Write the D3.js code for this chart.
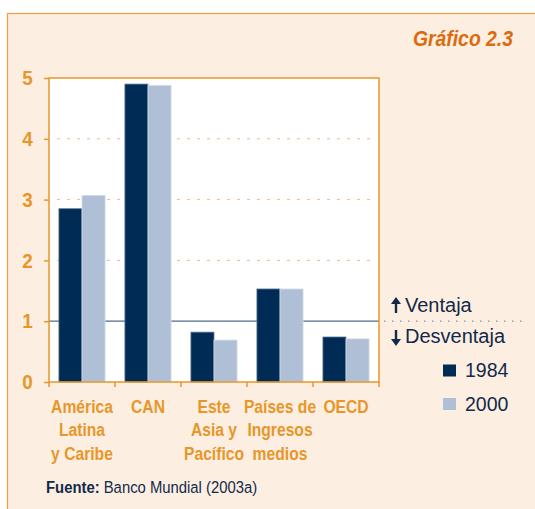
<!DOCTYPE html>
<html>
<head>
<meta charset="utf-8">
<script src="https://cdn.jsdelivr.net/npm/d3@7"></script>
<style>
  body { margin: 0; background: #fff; }
  svg { display: block; font-family: "Liberation Sans", Arial, sans-serif; }
</style>
</head>
<body>
<div class="visual"></div>
<script>
const width = 535;
const height = 509;

// data
const categories = ["América Latina y Caribe", "CAN", "Este Asia y Pacífico", "Países de Ingresos medios", "OECD"];
const catLines = [["América", "Latina", "y Caribe"], ["CAN"], ["Este", "Asia y", "Pacífico"], ["Países de", "Ingresos", "medios"], ["OECD"]];
const years = ["1984", "2000"];
const values1984 = [2.85, 4.9, 0.82, 1.53, 0.74];
const values2000 = [3.07, 4.88, 0.69, 1.53, 0.71];
const yTicks = [0, 1, 2, 3, 4, 5];

const orange = "#e8962a";
const navy = "#002b55";
const light = "#aebfd6";
const textNavy = "#13294b";
const squeeze = 0.9; // condensed look of the original font

const svg = d3.select(".visual").append("svg")
  .attr("width", width)
  .attr("height", height);

// outer panel
svg.append("rect")
  .attr("x", 7.5).attr("y", 13.5)
  .attr("width", 540).attr("height", 510)
  .attr("fill", "#fcefe1")
  .attr("stroke", "#eda040").attr("stroke-width", 1.2);

svg.append("text")
  .attr("transform", `translate(513,46) scale(0.88,1)`)
  .attr("text-anchor", "end")
  .attr("font-size", 22).attr("font-weight", "bold").attr("font-style", "italic")
  .attr("fill", "#dc6a0e")
  .text("Gráfico 2.3");

const plot = { left: 49, right: 379, top: 78, bottom: 382 };

const x = d3.scaleBand().domain(categories).range([plot.left, plot.right]);
const y = d3.scaleLinear().domain([0, 5]).range([plot.bottom, plot.top]);
const xs = d3.scaleBand().domain(years).range([0, x.bandwidth()]).paddingInner(0).paddingOuter(0.43);

svg.append("rect")
  .attr("x", plot.left).attr("y", plot.top)
  .attr("width", plot.right - plot.left).attr("height", plot.bottom - plot.top)
  .attr("fill", "#fff");

// dashed grid
svg.append("g").selectAll("line")
  .data([2, 3, 4])
  .join("line")
  .attr("x1", plot.left + 8).attr("x2", plot.right - 6)
  .attr("y1", d => y(d)).attr("y2", d => y(d))
  .attr("stroke", "#f3b97a").attr("stroke-width", 1)
  .attr("stroke-dasharray", "3,7");

// reference line at 1
svg.append("line")
  .attr("x1", plot.left).attr("x2", plot.right)
  .attr("y1", y(1)).attr("y2", y(1))
  .attr("stroke", "#4f6a88").attr("stroke-width", 1.2);

// bars
const rows = categories.map((c, i) => ({ cat: c, vals: [values1984[i], values2000[i]] }));
const groups = svg.append("g").selectAll("g")
  .data(rows)
  .join("g")
  .attr("transform", d => `translate(${x(d.cat)},0)`);

groups.selectAll("rect")
  .data(d => d.vals.map((v, j) => ({ year: years[j], v })))
  .join("rect")
  .attr("x", d => xs(d.year))
  .attr("y", d => y(d.v))
  .attr("width", xs.bandwidth())
  .attr("height", d => y(0) - y(d.v))
  .attr("fill", d => d.year === "1984" ? navy : light)
  .attr("stroke", d => d.year === "1984" ? "#5d7896" : "#d5dfeb")
  .attr("stroke-width", 0.8);

// plot frame
svg.append("rect")
  .attr("x", plot.left).attr("y", plot.top)
  .attr("width", plot.right - plot.left).attr("height", plot.bottom - plot.top)
  .attr("fill", "none")
  .attr("stroke", orange).attr("stroke-width", 1.5);

// y axis
const yAxis = svg.append("g")
  .attr("transform", `translate(${plot.left},0)`)
  .call(d3.axisLeft(y).tickValues(yTicks).tickSize(5).tickPadding(13).tickFormat(d3.format("d")));
yAxis.select(".domain").remove();
yAxis.selectAll(".tick line").attr("stroke", orange).attr("stroke-width", 1.5);
yAxis.selectAll(".tick text")
  .attr("transform", `scale(${squeeze},1)`)
  .attr("fill", orange).attr("font-size", 21).attr("font-weight", "bold")
  .attr("font-family", "Liberation Sans, Arial, sans-serif");

// x ticks at band boundaries
const bounds = categories.map(c => x(c)).concat([plot.right]);
svg.append("g").selectAll("line")
  .data(bounds)
  .join("line")
  .attr("x1", d => d).attr("x2", d => d)
  .attr("y1", plot.bottom).attr("y2", plot.bottom + 5)
  .attr("stroke", orange).attr("stroke-width", 1.5);

// x labels
const xl = svg.append("g").selectAll("text")
  .data(categories)
  .join("text")
  .attr("text-anchor", "middle")
  .attr("font-size", 18).attr("font-weight", "bold")
  .attr("fill", orange)
  .attr("transform", d => `translate(${x(d) + x.bandwidth() / 2},413) scale(0.87,1)`);
xl.selectAll("tspan")
  .data((d, i) => catLines[i])
  .join("tspan")
  .attr("x", 0)
  .attr("dy", (d, i) => i === 0 ? 0 : 23.5)
  .text(d => d);

// ventaja / desventaja
const side = svg.append("g").attr("fill", textNavy).attr("font-size", 20);
side.append("text").attr("x", 405).attr("y", 312).text("Ventaja");
side.append("text").attr("x", 405).attr("y", 343).text("Desventaja");
function arrow(xc, y0, y1) {
  const dir = Math.sign(y1 - y0);
  side.append("line").attr("x1", xc).attr("x2", xc).attr("y1", y0).attr("y2", y1 - dir * 4)
    .attr("stroke", textNavy).attr("stroke-width", 2.4);
  side.append("path")
    .attr("d", `M${xc - 5},${y1 - dir * 7} L${xc + 5},${y1 - dir * 7} L${xc},${y1} Z`)
    .attr("fill", textNavy);
}
arrow(396, 313, 297);
arrow(396, 330, 346);
svg.append("line")
  .attr("x1", 384).attr("x2", 528)
  .attr("y1", y(1)).attr("y2", y(1))
  .attr("stroke", "#8a93a3").attr("stroke-width", 1.3)
  .attr("stroke-dasharray", "1.5,6.5");

// legend
const legend = svg.append("g").selectAll("g")
  .data(years)
  .join("g")
  .attr("transform", (d, i) => `translate(443,${370 + i * 33.5})`);
legend.append("rect")
  .attr("x", 0).attr("y", -5.5)
  .attr("width", 13).attr("height", 12)
  .attr("fill", d => d === "1984" ? navy : light);
legend.append("text")
  .attr("x", 22).attr("y", 7)
  .attr("font-size", 19.5).attr("fill", textNavy)
  .text(d => d);

// source
const src = svg.append("text")
  .attr("transform", `translate(46,493) scale(${squeeze},1)`)
  .attr("font-size", 16.5).attr("fill", textNavy);
src.append("tspan").attr("font-weight", "bold").text("Fuente:");
src.append("tspan").text(" Banco Mundial (2003a)");
</script>
</body>
</html>
